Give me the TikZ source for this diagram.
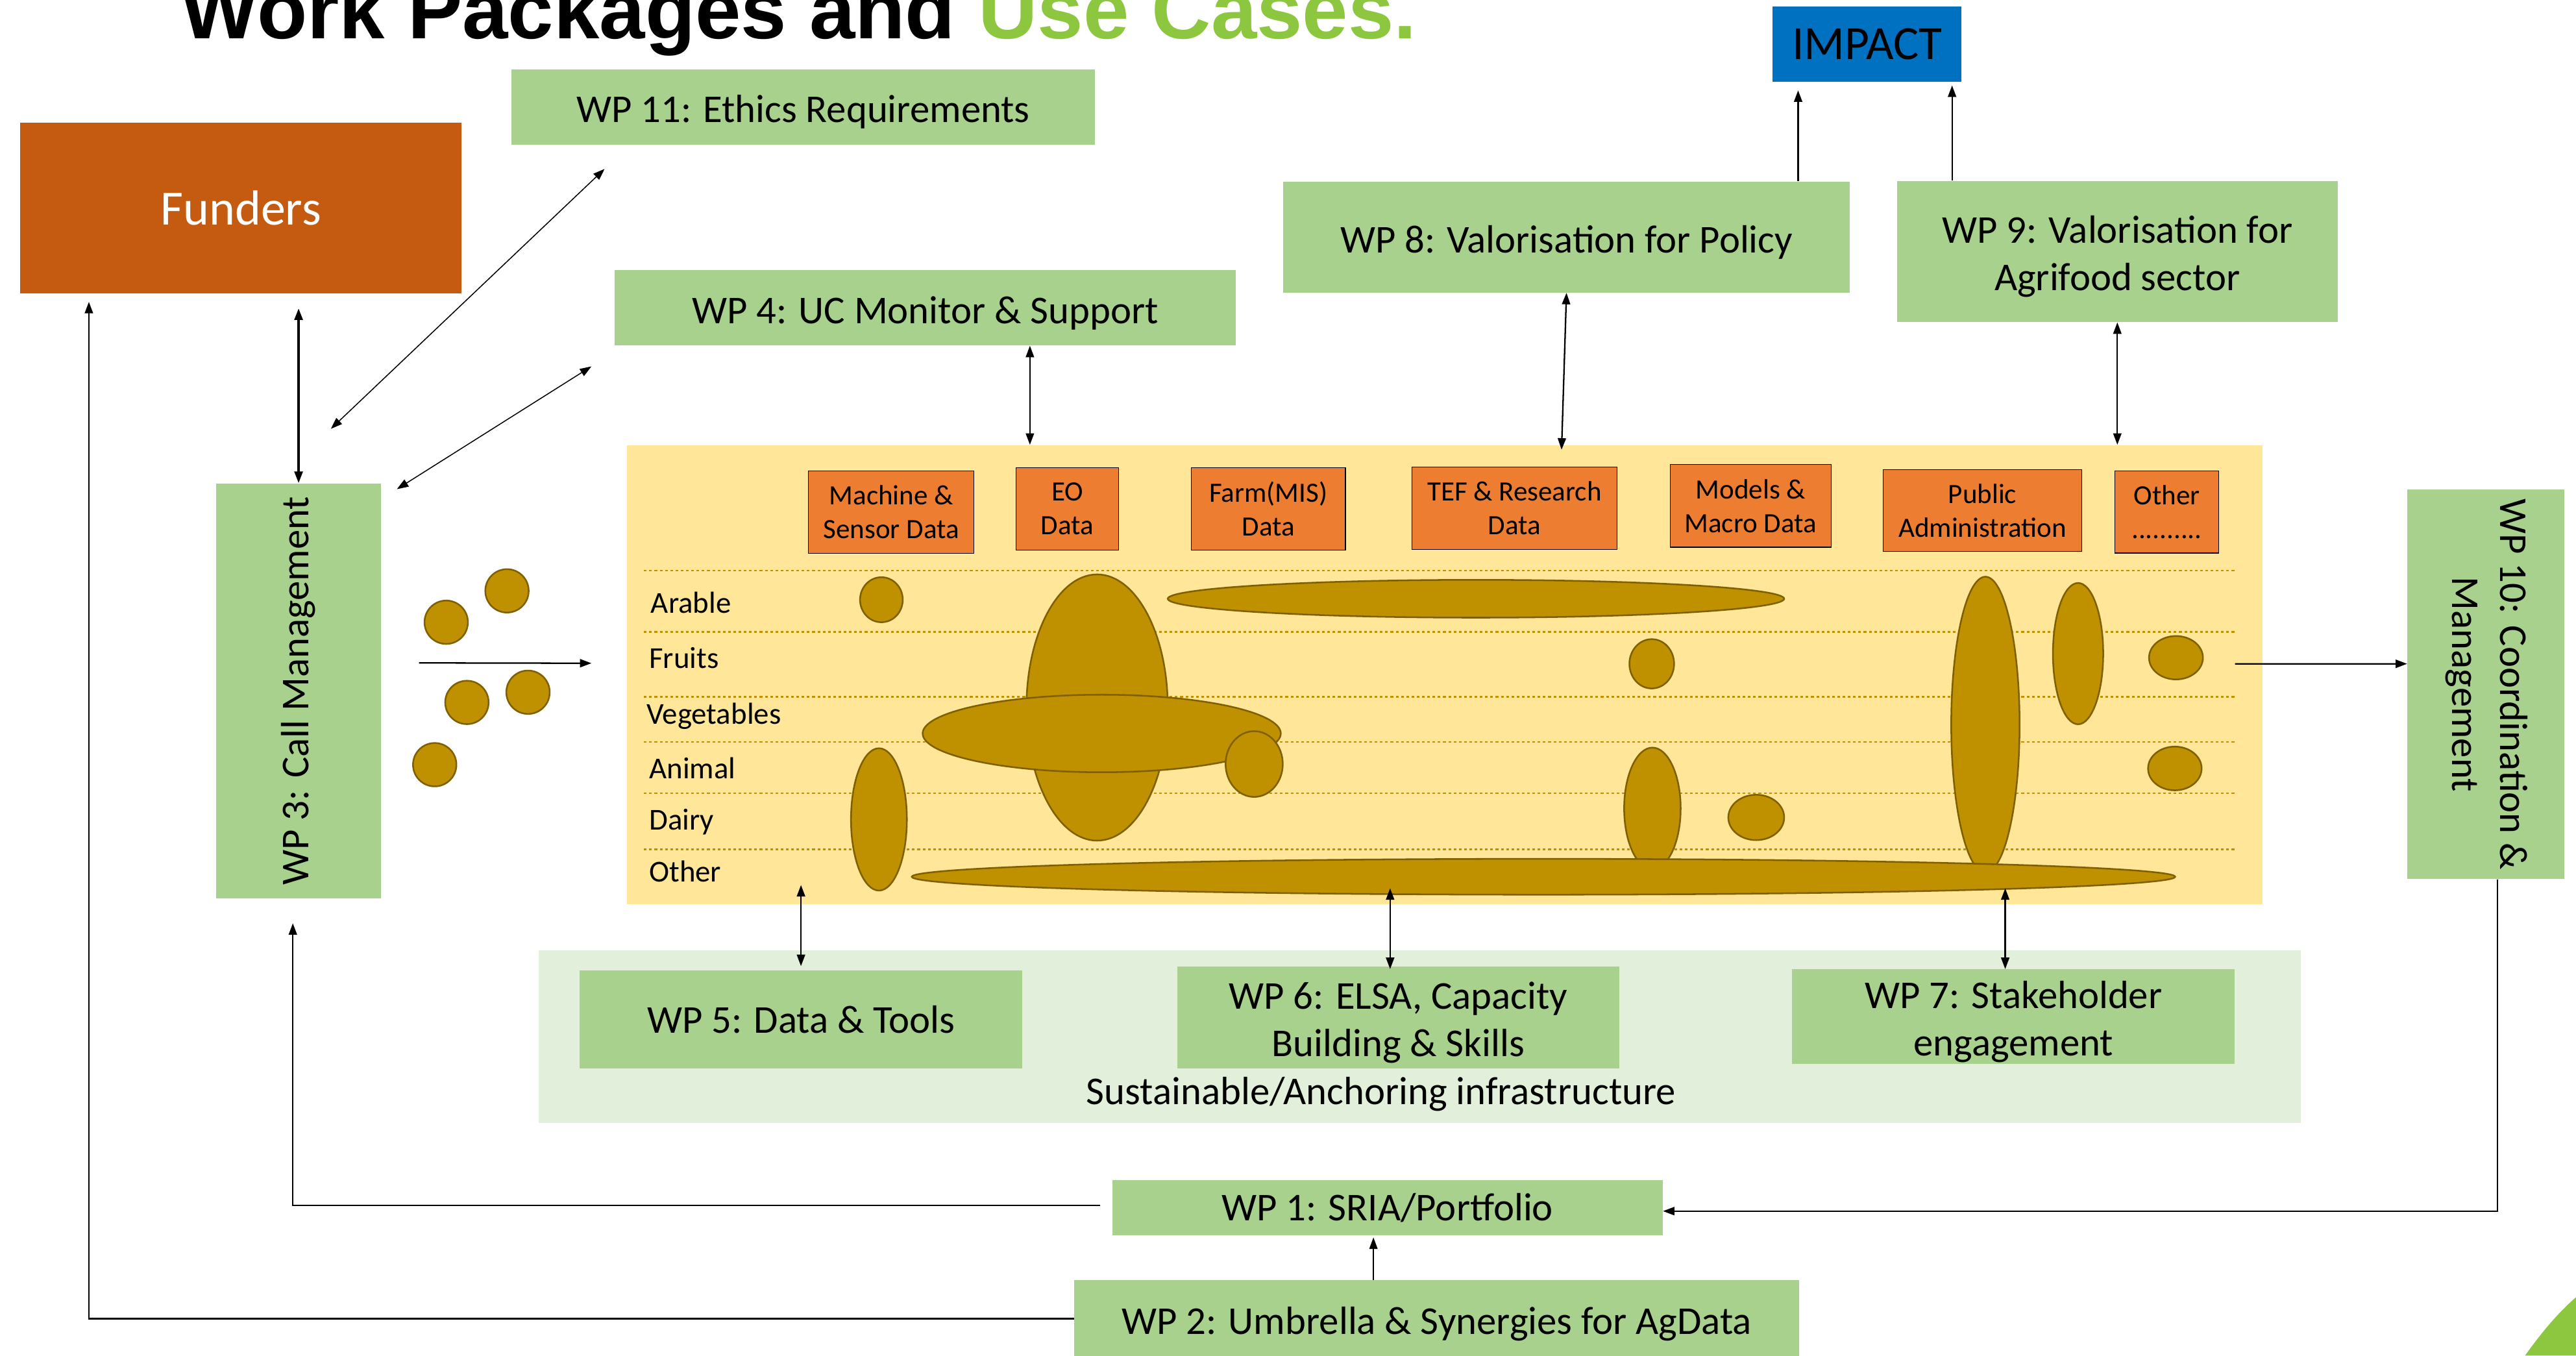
\documentclass[tikz,border=0pt]{standalone}
\usepackage{fontspec}
\setmainfont{Carlito}
\newfontfamily\headfont{Liberation Sans}
\usepackage{tikz}
\usetikzlibrary{arrows.meta}

\definecolor{wpgreen}{HTML}{A9D18E}
\definecolor{funderorange}{HTML}{C55A11}
\definecolor{impactblue}{HTML}{0070C0}
\definecolor{ucyellow}{HTML}{FFE699}
\definecolor{infragreen}{HTML}{E2EFDA}
\definecolor{srcorange}{HTML}{ED7D31}
\definecolor{blobfill}{HTML}{BF9000}
\definecolor{blobedge}{HTML}{7F6000}
\definecolor{ucgreen}{HTML}{8DC63F}

% first line as tall as in the slides
\newcommand{\slidestrut}{\rule{0pt}{0.95em}}

\begin{document}
\begin{tikzpicture}[
  x = 1pt, y = -1pt,
  wpbase/.style = {fill = wpgreen, inner sep = 0pt, align = center,
                   font = \fontsize{24}{29}\selectfont},
  wpbox/.style = {wpbase, execute at begin node = \slidestrut},
  srcbox/.style = {fill = srcorange, draw = black, line width = 0.5pt,
                   inner sep = 0pt, align = center,
                   font = \fontsize{17}{20.5}\selectfont},
  rowlabel/.style = {anchor = base west, inner sep = 0pt,
                     font = \fontsize{18.5}{22}\selectfont},
  rowline/.style = {draw = blobfill, line width = 1pt,
                    dash pattern = on 1.6pt off 1.6pt},
  blob/.style = {fill = blobfill, draw = blobedge, line width = 1pt},
  link/.style = {draw, line width = 0.9pt, -{Triangle[length = 7pt, width = 5pt]}},
  duplex/.style = {link, {Triangle[length = 7pt, width = 5pt]}-{Triangle[length = 7pt, width = 5pt]}}
  ]
  \useasboundingbox (0,0) rectangle (1568,825);
  \clip (0,0) rectangle (1568,825);
  \fill[white] (0,0) rectangle (1568,825);

  % title
  \node[anchor = base west, inner sep = 0pt,
        font = \headfont\bfseries\fontsize{50}{60}\selectfont] (title)
    at (110,23.7) {Work Packages and \textcolor{ucgreen}{Use Cases.}};

  % panels
  \node[fill = infragreen, minimum width = 1072.5pt, minimum height = 105pt] (infra)
    at (864.25,630.9) {};
  \node[fill = ucyellow, minimum width = 995.5pt, minimum height = 279.5pt] (usecases)
    at (879.45,410.65) {};
  \node[anchor = base, inner sep = 0pt, font = \fontsize{24}{29}\selectfont] (infralabel)
    at (840.7,672.3) {Sustainable/Anchoring infrastructure};

  % boxes
  \node[fill = funderorange, text = white, minimum width = 268.7pt, minimum height = 103.7pt,
        font = \fontsize{30}{36}\selectfont] (funders) at (146.65,126.65) {Funders};
  \node[fill = impactblue, minimum width = 115pt, minimum height = 45.8pt,
        font = \fontsize{29}{35}\selectfont] (impact) at (1136.5,26.9) {IMPACT};
  \node[wpbox, minimum width = 355.3pt, minimum height = 45.7pt] (wp11)
    at (488.85,65.15) {WP 11: Ethics Requirements};
  \node[wpbox, minimum width = 378pt, minimum height = 45.8pt] (wp4)
    at (563.2,187.3) {WP 4: UC Monitor \& Support};
  \node[wpbox, minimum width = 345pt, minimum height = 67.4pt] (wp8)
    at (953.5,144.3) {WP 8: Valorisation for Policy};
  \node[wpbase, minimum width = 268.4pt, minimum height = 85.8pt] (wp9)
    at (1288.8,153.1) {\slidestrut WP 9: Valorisation for\\Agrifood sector};
  \node[wpbase, minimum width = 100.3pt, minimum height = 252.5pt] (wp3)
    at (181.75,420.45) {\rotatebox{90}{WP 3: Call Management}};
  \node[wpbase, minimum width = 95.6pt, minimum height = 237pt] (wp10)
    at (1513.2,416.5)
    {\rotatebox{-90}{\begin{tabular}{@{}c@{}}WP 10: Coordination \&\\Management\end{tabular}}};
  \node[wpbase, minimum width = 269.5pt, minimum height = 59.5pt] (wp5)
    at (487.55,620.45) {WP 5: Data \& Tools};
  \node[wpbase, minimum width = 268.9pt, minimum height = 61.9pt] (wp6)
    at (851.15,619.25) {\slidestrut WP 6: ELSA, Capacity\\Building \& Skills};
  \node[wpbase, minimum width = 269.5pt, minimum height = 57.4pt] (wp7)
    at (1225.55,618.7) {\slidestrut WP 7: Stakeholder\\engagement};
  \node[wpbase, minimum width = 335pt, minimum height = 33.6pt] (wp1)
    at (844.5,735.1) {WP 1: SRIA/Portfolio};
  \node[wpbox, minimum width = 441pt, minimum height = 46.8pt] (wp2)
    at (874.5,802.6) {WP 2: Umbrella \& Synergies for AgData};

  % data sources
  \node[srcbox, minimum width = 100.8pt, minimum height = 50.2pt] (machine)
    at (542.5,311.6) {Machine \&\\Sensor Data};
  \node[srcbox, minimum width = 62.6pt, minimum height = 50.1pt] (eo)
    at (649.7,309.75) {EO\\Data};
  \node[srcbox, minimum width = 93.9pt, minimum height = 50.1pt] (farm)
    at (772.05,309.75) {Farm(MIS)\\Data};
  \node[srcbox, minimum width = 124.7pt, minimum height = 50.1pt] (tef)
    at (921.85,309.25) {TEF \& Research\\Data};
  \node[srcbox, minimum width = 98pt, minimum height = 50.2pt] (models)
    at (1065.6,307.9) {Models \&\\Macro Data};
  \node[srcbox, minimum width = 120.6pt, minimum height = 49.9pt] (public)
    at (1206.7,310.65) {Public\\Administration};
  \node[srcbox, minimum width = 63.2pt, minimum height = 50.1pt] (othersrc)
    at (1318.9,311.55) {Other\\..........};

  % sector rows
  \draw[rowline] (392,347.3) -- (1361,347.3);
  \draw[rowline] (392,384.5) -- (1361,384.5);
  \draw[rowline] (392,424) -- (1361,424);
  \draw[rowline] (392,451.6) -- (1361,451.6);
  \draw[rowline] (392,482.8) -- (1361,482.8);
  \draw[rowline] (392,517) -- (1361,517);
  \node[rowlabel] (arable) at (396,373) {Arable};
  \node[rowlabel] (fruits) at (395,406.6) {Fruits};
  \node[rowlabel] (vegetables) at (393.5,440.5) {Vegetables};
  \node[rowlabel] (animal) at (395,474) {Animal};
  \node[rowlabel] (dairy) at (395,505) {Dairy};
  \node[rowlabel] (otherrow) at (395,536.5) {Other};

  % use cases
  \draw[blob] (667.8,430.6) ellipse [x radius = 43pt, y radius = 81pt];
  \draw[blob] (670.6,446.4) ellipse [x radius = 109pt, y radius = 23.6pt];
  \draw[blob] (763.4,465) ellipse [x radius = 17.4pt, y radius = 20pt];
  \draw[blob] (536.5,365) ellipse [x radius = 13pt, y radius = 13.7pt];
  \draw[blob] (898.4,364.4) ellipse [x radius = 187.6pt, y radius = 11.5pt];
  \draw[blob] (535,498.7) ellipse [x radius = 17pt, y radius = 43.3pt];
  \draw[blob] (1005.4,404) ellipse [x radius = 13.6pt, y radius = 15pt];
  \draw[blob] (1005.8,492) ellipse [x radius = 17.2pt, y radius = 37pt];
  \draw[blob] (1069,497.5) ellipse [x radius = 17pt, y radius = 13.8pt];
  \draw[blob] (1208.5,441) ellipse [x radius = 20.8pt, y radius = 90pt];
  \draw[blob] (1264.9,397.8) ellipse [x radius = 15.3pt, y radius = 43pt];
  \draw[blob] (1324.5,400.3) ellipse [x radius = 16.4pt, y radius = 13.2pt];
  \draw[blob] (1323.8,467.7) ellipse [x radius = 16.3pt, y radius = 13.3pt];
  \draw[blob] (939.5,533.6) ellipse [x radius = 384.5pt, y radius = 10.9pt];

  % incoming calls
  \draw[blob] (271.6,378.7) circle [radius = 13.2pt];
  \draw[blob] (308.6,359.6) circle [radius = 13.2pt];
  \draw[blob] (284.2,427.5) circle [radius = 13.2pt];
  \draw[blob] (321.4,421.3) circle [radius = 13.2pt];
  \draw[blob] (264.6,465.4) circle [radius = 13.2pt];

  % connectors
  \draw[duplex, line width = 1.3pt, shorten <= 9pt] (funders.south -| wp3.north) -- (wp3.north);
  \draw[duplex, line width = 0.6pt]
    ([xshift = 57pt, yshift = -14.6pt]wp11.south west) -- ([xshift = 70pt, yshift = 33pt]wp3.north west);
  \draw[duplex, line width = 0.6pt]
    ([xshift = -14pt, yshift = -12.6pt]wp4.south west) -- ([xshift = 9.5pt, yshift = -3.7pt]wp3.north east);
  \draw[duplex] ([xshift = 63.7pt]wp4.south) -- ([xshift = 63.7pt]wp4.south |- usecases.north);
  \draw[duplex] (wp8.south) -- ([xshift = -3pt, yshift = -3pt]wp8.south |- usecases.north);
  \draw[duplex] (wp9.south) -- (wp9.south |- usecases.north);
  \draw[link] ([xshift = 15.7pt]impact.south west |- wp8.north) -- ([xshift = 15.7pt, yshift = -5pt]impact.south west);
  \draw[link] ([xshift = -6pt]impact.south east |- wp9.north) -- ([xshift = -6pt, yshift = -2pt]impact.south east);
  \draw[duplex] ([yshift = 12pt]wp5.north |- usecases.south) -- ([yshift = 2.5pt]wp5.north);
  \draw[duplex] ([xshift = -5pt, yshift = 10pt]wp6.north |- usecases.south) -- ([xshift = -5pt, yshift = -1.7pt]wp6.north);
  \draw[duplex] ([xshift = -5pt, yshift = 10pt]wp7.north |- usecases.south) -- ([xshift = -5pt]wp7.north);
  \draw[link] ([xshift = 23pt, yshift = 17pt]wp3.east) -- ([xshift = -21.5pt, yshift = 7pt]usecases.west);
  \draw[link] ([xshift = -17pt, yshift = 6.6pt]usecases.east) -- ([yshift = 12.5pt]wp10.west);
  \draw[link] ([xshift = -7pt, yshift = 1.5pt]wp1.west) -| ([xshift = -3.5pt, yshift = -15pt]wp3.south);
  \draw[link] (wp2.west) -| ([xshift = 42pt, yshift = -5pt]funders.south west);
  \draw[link] ([xshift = 7pt]wp10.south) |- ([yshift = -2pt]wp1.east);
  \draw[link, line width = 0.6pt] ([xshift = -38.5pt]wp2.north) -- ([xshift = -38.5pt, yshift = -1pt]wp2.north |- wp1.south);

  % corner decoration
  \fill[ucgreen] (1537,825) .. controls (1547,811) and (1557,799) .. (1568,789.5) -- (1568,825) -- cycle;
\end{tikzpicture}
\end{document}
